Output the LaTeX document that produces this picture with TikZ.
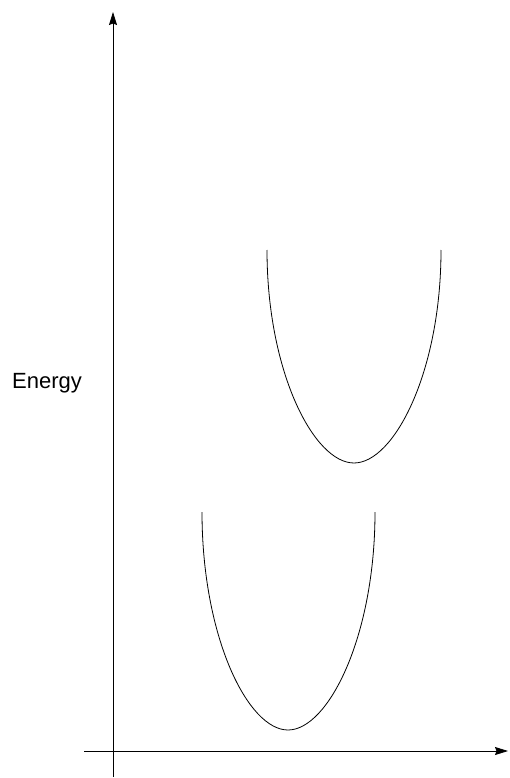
\documentclass[tikz,border=0pt]{standalone}
\usepackage{fontspec}
\setmainfont{Liberation Sans}
\usetikzlibrary{arrows.meta}

\begin{document}
\begin{tikzpicture}[x=1pt,y=-1pt,line width=0.8pt]
\useasboundingbox (0,0) rectangle (509,778);

\coordinate (O) at (113,751);
\coordinate (Ytop) at (113,12);
\coordinate (Ybot) at (113,777);
\coordinate (Xleft) at (84,751);
\coordinate (Xright) at (508,751);

%axes
\draw[-{Stealth[length=13pt,width=8pt,inset=1.5pt]}] (Ybot) -- (Ytop);
\draw[-{Stealth[length=13pt,width=8pt,inset=1.5pt]}] (Xleft) -- (Xright);

\node[font=\fontsize{22}{26}\selectfont] (E) at (47,383) {Energy};

%ground state curve
\coordinate (G) at (288,730);
\draw (202,512) .. controls (202,637) and (248,730) .. (G)
      .. controls (328,730) and (375,637) .. (375,512);

%excited state curve
\coordinate (X) at (354,463);
\draw (267,250) .. controls (267,372) and (314,463) .. (X)
      .. controls (394,463) and (441,372) .. (441,250);

\end{tikzpicture}
\end{document}
